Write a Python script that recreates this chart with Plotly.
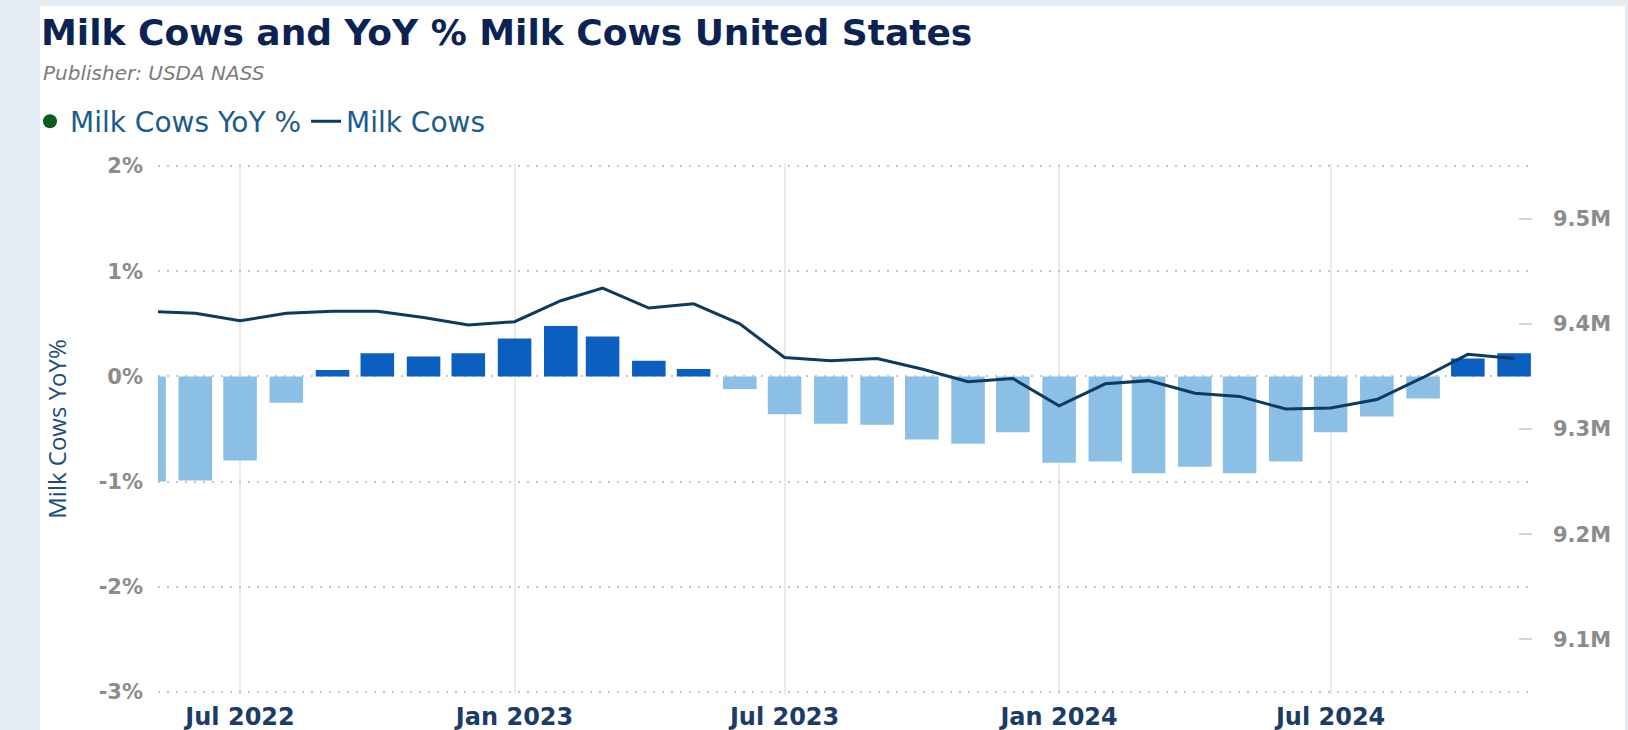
import plotly.graph_objects as go

# ---------------- data ----------------
months = [
    "2022-05-01", "2022-06-01", "2022-07-01", "2022-08-01", "2022-09-01", "2022-10-01",
    "2022-11-01", "2022-12-01", "2023-01-01", "2023-02-01", "2023-03-01", "2023-04-01",
    "2023-05-01", "2023-06-01", "2023-07-01", "2023-08-01", "2023-09-01", "2023-10-01",
    "2023-11-01", "2023-12-01", "2024-01-01", "2024-02-01", "2024-03-01", "2024-04-01",
    "2024-05-01", "2024-06-01", "2024-07-01", "2024-08-01", "2024-09-01", "2024-10-01",
    "2024-11-01",
]

yoy_pct = [
    -1.00, -0.99, -0.80, -0.25, 0.06, 0.22,
    0.19, 0.22, 0.36, 0.48, 0.38, 0.15,
    0.07, -0.12, -0.36, -0.45, -0.46, -0.60,
    -0.64, -0.53, -0.82, -0.81, -0.92, -0.86,
    -0.92, -0.81, -0.53, -0.38, -0.21, 0.17,
    0.22,
]

milk_cows = [
    9412000, 9410000, 9403000, 9410000, 9412000, 9412000,
    9406000, 9399000, 9402000, 9422000, 9434000, 9415000,
    9419000, 9400000, 9368000, 9365000, 9367000, 9357000,
    9345000, 9348000, 9322000, 9343000, 9346000, 9334000,
    9331000, 9319000, 9320000, 9328000, 9349000, 9371000,
    9367000,
]

x_tick_vals = ["2022-07-01", "2023-01-01", "2023-07-01", "2024-01-01", "2024-07-01"]
x_tick_text = ["Jul 2022", "Jan 2023", "Jul 2023", "Jan 2024", "Jul 2024"]
left_tick_vals = [-3, -2, -1, 0, 1, 2]
left_tick_text = ["-3%", "-2%", "-1%", "0%", "1%", "2%"]
right_tick_vals = [9100000, 9200000, 9300000, 9400000, 9500000]
right_tick_text = ["9.1M", "9.2M", "9.3M", "9.4M", "9.5M"]

# ---------------- styling ----------------
POS_COLOR = "#0a5fc0"
NEG_COLOR = "#8bbfe5"
LINE_COLOR = "#0d3a5f"
LEGEND_DOT = "#0b5d1e"
DAY_MS = 86400000

W, H = 1628, 730
ML, MR, MT, MB = 158, 96, 164, 36
PW, PH = W - ML - MR, H - MT - MB

# small padding so that the outermost dotted gridlines (2% and -3%) are drawn
PAD = 0.02
Y_RANGE = [-3 - PAD, 2 + PAD]
Y2_RANGE = [9050000 - PAD * 100000, 9550000 + PAD * 100000]


def px_x(p):
    return (p - ML) / PW


def px_y(p):
    return (H - MB - p) / PH


bar_colors = [POS_COLOR if v >= 0 else NEG_COLOR for v in yoy_pct]

fig = go.Figure()

fig.add_trace(go.Bar(
    x=months, y=yoy_pct,
    marker=dict(color=bar_colors, line=dict(width=0)),
    width=22.5 * DAY_MS,
    name="Milk Cows YoY %", legendgroup="yoy", showlegend=False,
    hovertemplate="%{x|%b %Y}: %{y:.2f}%<extra></extra>",
))

# legend entry for the bars (green dot as in the reference)
fig.add_trace(go.Scatter(
    x=[None], y=[None], mode="markers",
    marker=dict(color=LEGEND_DOT, size=14),
    name="Milk Cows YoY %", legendgroup="yoy", showlegend=True,
))

fig.add_trace(go.Scatter(
    x=months, y=milk_cows, mode="lines",
    line=dict(color=LINE_COLOR, width=3),
    name="Milk Cows", yaxis="y2",
    hovertemplate="%{x|%b %Y}: %{y:,.0f}<extra></extra>",
))

tick_font = dict(family="DejaVu Sans", size=21, color="#8c8c8c", weight="bold")

fig.update_layout(
    width=W, height=H,
    margin=dict(l=ML, r=MR, t=MT, b=MB, autoexpand=False),
    paper_bgcolor="#e4ecf4",
    plot_bgcolor="white",
    title=dict(
        text="<b>Milk Cows and YoY % Milk Cows United States</b>",
        x=41 / W, xanchor="left", y=1 - 32 / H, yanchor="middle",
        font=dict(family="DejaVu Sans", size=36, color="#0b2352"),
    ),
    xaxis=dict(
        type="date",
        range=["2022-05-07", "2024-11-13"],
        tickvals=x_tick_vals, ticktext=x_tick_text,
        showgrid=True, gridcolor="#ebebeb", gridwidth=1.5,
        zeroline=False, showline=False, ticks="",
        tickfont=dict(family="DejaVu Sans", size=24, color="#1b3c66", weight="bold"),
        ticklabelstandoff=6,
    ),
    yaxis=dict(
        range=Y_RANGE,
        tickvals=left_tick_vals, ticktext=left_tick_text,
        showgrid=True, gridcolor="#c6c6c6", griddash="2px,7px", gridwidth=2,
        zeroline=False, showline=False, ticks="",
        tickfont=tick_font,
        ticklabelstandoff=14,
        title=dict(text="Milk Cows YoY%",
                   font=dict(family="Open Sans", size=24, color="#1e4d7a"),
                   standoff=25),
    ),
    yaxis2=dict(
        overlaying="y", side="right",
        range=Y2_RANGE,
        tickvals=right_tick_vals, ticktext=right_tick_text,
        showgrid=False, zeroline=False, showline=False,
        ticks="inside", ticklen=13, tickwidth=2, tickcolor="#d6d6d6",
        tickfont=tick_font,
        ticklabelstandoff=20,
    ),
    legend=dict(
        orientation="h",
        x=px_x(30), xanchor="left",
        y=px_y(121.5), yanchor="middle",
        font=dict(family="DejaVu Sans", size=28, color="#1b5b8e"),
        bgcolor="rgba(0,0,0,0)",
        traceorder="normal",
    ),
    shapes=[dict(
        type="rect", xref="paper", yref="paper", layer="below",
        x0=px_x(40), x1=px_x(1625), y0=px_y(H + 10), y1=px_y(6),
        fillcolor="white", line=dict(width=0),
    )],
    annotations=[dict(
        text="<i>Publisher: USDA NASS</i>",
        xref="paper", yref="paper",
        x=px_x(41), y=px_y(73), xanchor="left", yanchor="middle",
        showarrow=False,
        font=dict(family="DejaVu Sans", size=20, color="#7b7b7b"),
    )],
    showlegend=True,
)

fig.write_html("out.html")
